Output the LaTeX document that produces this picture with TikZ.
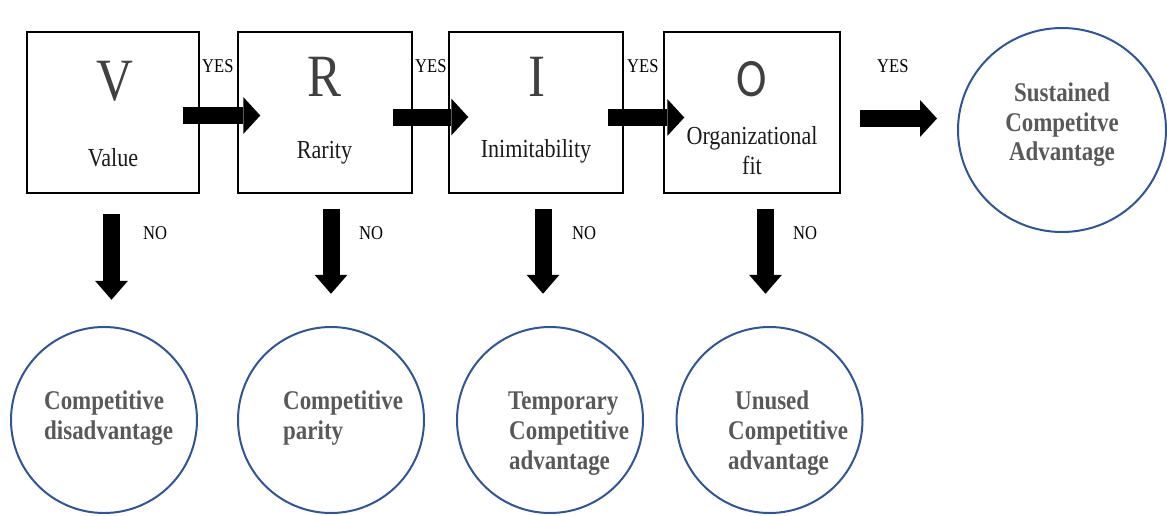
\documentclass[tikz,border=0pt]{standalone}
\usepackage{fontspec}
\setmainfont{Liberation Serif}[FakeStretch=0.85]
\newfontfamily\sansletter{Carlito}[FakeStretch=0.85]
\usetikzlibrary{arrows.meta,shapes.geometric}
\definecolor{ringblue}{HTML}{2F5597}
\definecolor{ringtext}{HTML}{595959}
\definecolor{lettergray}{HTML}{404040}
\definecolor{labelblack}{HTML}{1A1A1A}

\begin{document}
\begin{tikzpicture}[x=1pt,y=-1pt,
  stagebox/.style={draw, line width=1.5pt, minimum width=#1, minimum height=161pt, inner sep=0pt},
  bigletter/.style={anchor=base, inner sep=0pt, text=lettergray, font=\fontsize{60}{60}\selectfont},
  stagelabel/.style={anchor=base, inner sep=0pt, text=labelblack, font=\fontsize{26}{30}\selectfont},
  answer/.style={anchor=base west, inner sep=0pt, font=\fontsize{19.5}{20}\selectfont},
  ring/.style={draw=ringblue, line width=2pt, circle, minimum size=186pt, inner sep=0pt},
  ringline/.style={anchor=base west, inner sep=0pt, text=ringtext, font=\fontsize{27}{30}\selectfont\bfseries},
  fatright/.style={line width=17pt, -{Triangle[length=17pt,width=37pt,line width=0pt]}},
  fatdown/.style={line width=17pt, -{Triangle[length=19pt,width=33pt,line width=0pt]}}
]
\useasboundingbox (0,0) rectangle (1167,515);

% VRIO stages
\node[stagebox=172pt] (V) at (113,112.5) {};
\node[stagebox=174pt] (R) at (325,112.5) {};
\node[stagebox=174pt] (I) at (536,112.5) {};
\node[stagebox=176pt] (O) at (752,112.5) {};

\node[bigletter] (Vl) at (114.5,100) {V};
\node[bigletter] (Rl) at (325,96) {R};
\node[bigletter] (Il) at (536.5,96) {I};
\node[bigletter, font=\sansletter\fontsize{54}{54}\selectfont] (Ol) at (752,96) {O};

\node[stagelabel] (Vt) at (113,166) {Value};
\node[stagelabel] (Rt) at (324.5,158) {Rarity};
\node[stagelabel] (It) at (536,157) {Inimitability};
\node[stagelabel] (Ot1) at (752,144) {Organizational};
\node[stagelabel] (Ot2) at (752,174) {fit};

% outcomes
\node[draw=ringblue, line width=2pt, ellipse, minimum width=208pt, minimum height=204pt, inner sep=0pt] (S) at (1062,130) {};
\node[ringline, anchor=base] (S1) at (1062,101) {Sustained};
\node[ringline, anchor=base] (S2) at (1062,131) {Competitve};
\node[ringline, anchor=base] (S3) at (1062,160) {Advantage};

\node[ring] (C1) at (104,420) {};
\node[ring] (C2) at (331,420) {};
\node[ring] (C3) at (550,420) {};
\node[ring] (C4) at (769.5,420) {};

\node[ringline] (C1a) at (44,409) {Competitive};
\node[ringline] (C1b) at (44,439) {disadvantage};
\node[ringline] (C2a) at (283,409) {Competitive};
\node[ringline] (C2b) at (283,439) {parity};
\node[ringline] (C3a) at (508,409) {Temporary};
\node[ringline] (C3b) at (509,439) {Competitive};
\node[ringline] (C3c) at (509,469) {advantage};
\node[ringline] (C4a) at (735,409) {Unused};
\node[ringline] (C4b) at (728,439) {Competitive};
\node[ringline] (C4c) at (728,469) {advantage};

% YES path
\draw[fatright] ([shift={(-17,3)}]V.east) -- ([shift={(23,3)}]R.west);
\draw[fatright] ([shift={(-20,4.5)}]R.east) -- ([shift={(20,4.5)}]I.west);
\draw[fatright] ([shift={(-16,5)}]I.east) -- ([shift={(21,5)}]O.west);
\draw[fatright] ([shift={(19,6)}]O.east) -- ([shift={(-20,-11.5)}]S.west);

\node[answer] (y1) at (202,72) {YES};
\node[answer] (y2) at (415,72) {YES};
\node[answer] (y3) at (627,72) {YES};
\node[answer] (y4) at (877,72) {YES};

% NO path
\draw[fatdown] ([shift={(-1.5,20)}]V.south) -- ++(0,86);
\draw[fatdown] ([shift={(6,15)}]R.south) -- ++(0,85);
\draw[fatdown] ([shift={(7,15)}]I.south) -- ++(0,85);
\draw[fatdown] ([shift={(13.5,15)}]O.south) -- ++(0,85);

\node[answer] (n1) at (143,239) {NO};
\node[answer] (n2) at (359,239) {NO};
\node[answer] (n3) at (572,239) {NO};
\node[answer] (n4) at (793,239) {NO};
\end{tikzpicture}
\end{document}
